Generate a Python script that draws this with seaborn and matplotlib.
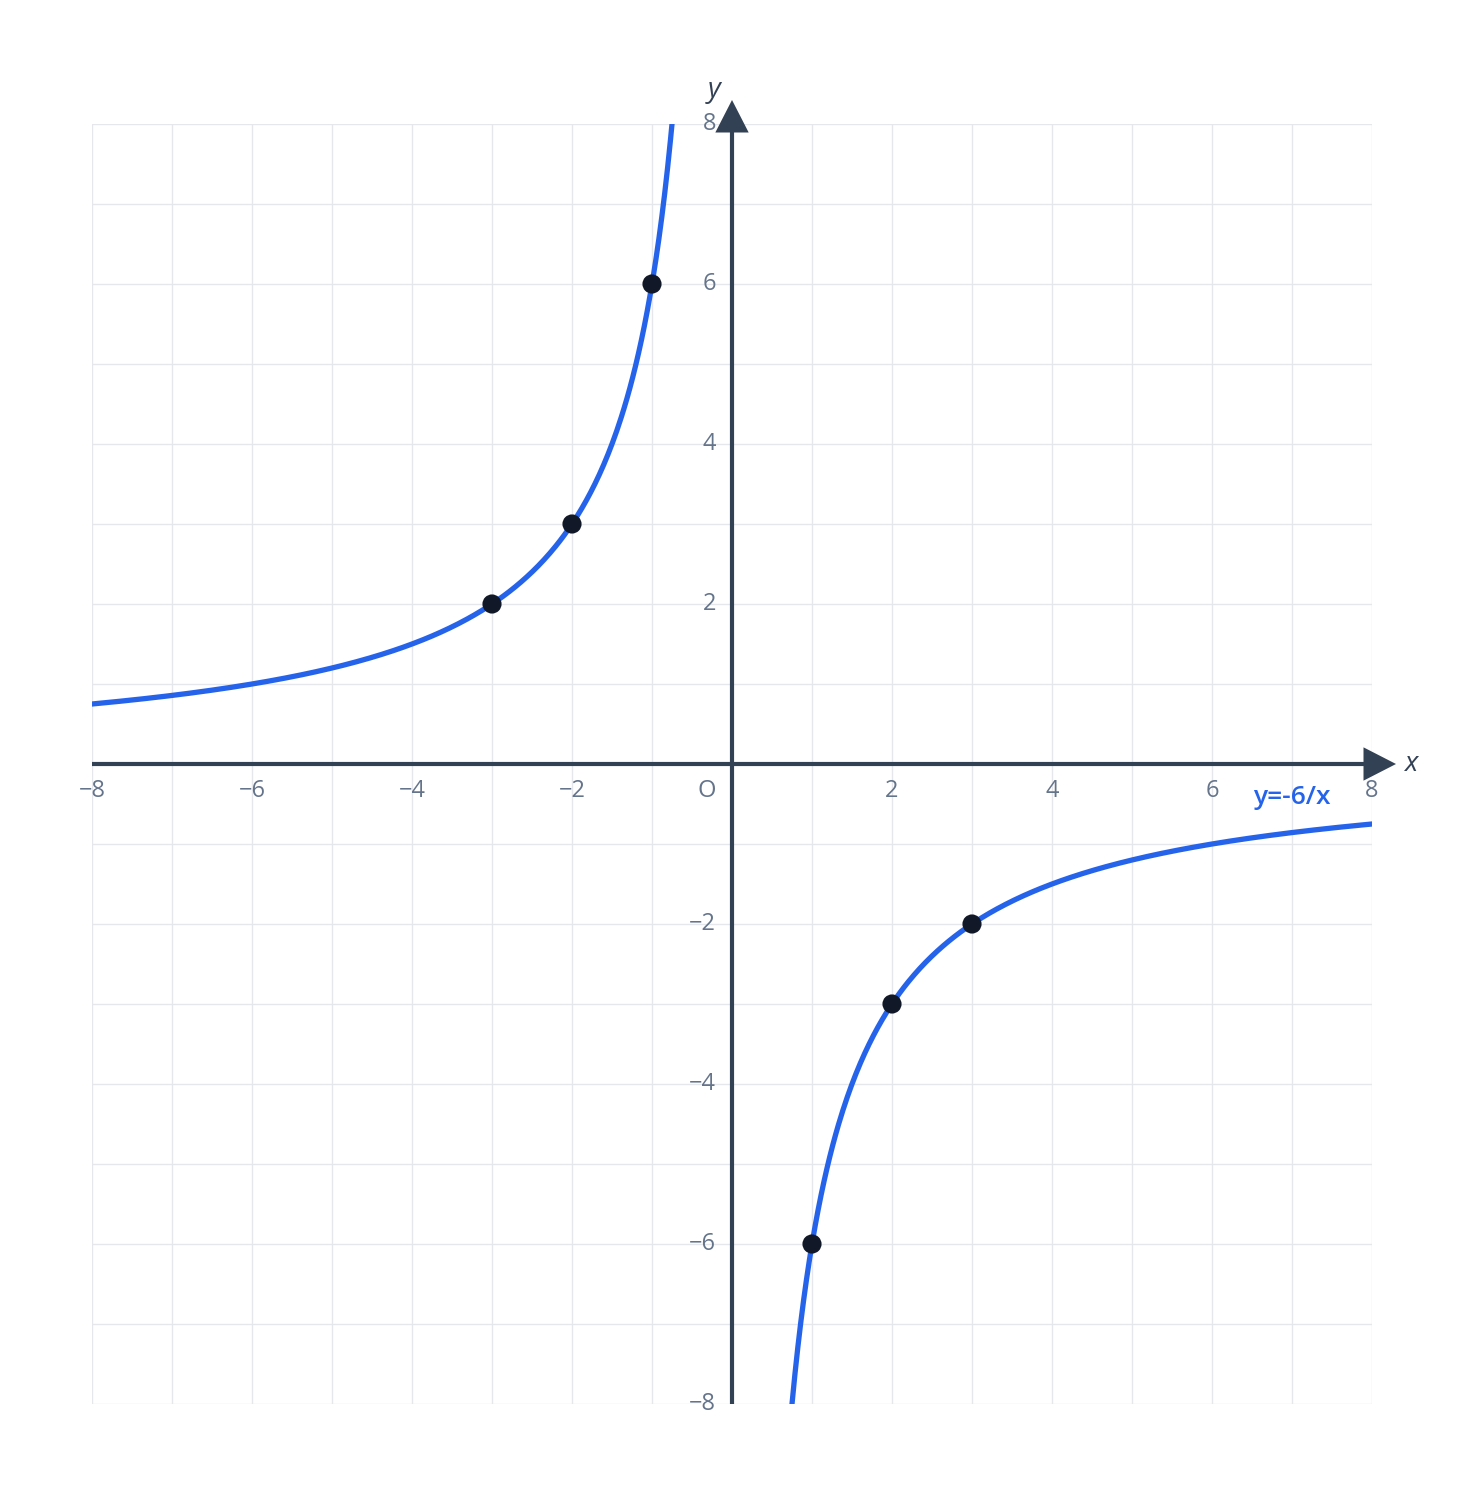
import numpy as np
import pandas as pd
import seaborn as sns
import matplotlib.pyplot as plt

K = -6
X_LEFT = [-8.0, -0.75]
X_RIGHT = [0.75, 8.0]
PTS_X = [-3, -2, -1, 1, 2, 3]
PTS_Y = [2, 3, 6, -6, -3, -2]
TICKS = [-8, -6, -4, -2, 2, 4, 6, 8]

BLUE = "#2563eb"
AXIS = "#334155"
GRAY = "#64748b"

sns.set_theme(style="white")
plt.rcParams["font.family"] = ["Open Sans", "DejaVu Sans"]

fig = plt.figure(figsize=(14.64, 14.96), dpi=100)
ax = fig.add_axes([92 / 1464, 1 - 1404 / 1496, 1280 / 1464, 1280 / 1496])

# curve, two branches
for lo, hi in (X_LEFT, X_RIGHT):
    xs = np.linspace(lo, hi, 400)
    df = pd.DataFrame({"x": xs, "y": K / xs})
    sns.lineplot(data=df, x="x", y="y", color=BLUE, lw=3.8, ax=ax, sort=False, zorder=4)

pts = pd.DataFrame({"x": PTS_X, "y": PTS_Y})
sns.scatterplot(data=pts, x="x", y="y", color="#111827", s=190, edgecolor="none", ax=ax, zorder=6)

ax.set_xlim(-8, 8)
ax.set_ylim(-8, 8)
ax.set_xticks(range(-8, 9))
ax.set_yticks(range(-8, 9))
ax.set_xticklabels([])
ax.set_yticklabels([])
ax.tick_params(length=0)
ax.grid(True, color="#e5e7eb", lw=1.0)
for s in ax.spines.values():
    s.set_visible(False)
ax.set_xlabel("")
ax.set_ylabel("")

# axes with arrow heads
ax.plot([-8, 7.92], [0, 0], color=AXIS, lw=3, zorder=3, solid_capstyle="butt")
ax.plot([0, 0], [-8, 7.92], color=AXIS, lw=3, zorder=3, solid_capstyle="butt")
head = dict(arrowstyle="-|>,head_length=1.95,head_width=1.0", color=AXIS, lw=0,
            shrinkA=0, shrinkB=0)
ax.annotate("", xy=(8.3, 0), xytext=(7.9, 0), arrowprops=head, annotation_clip=False, zorder=5)
ax.annotate("", xy=(0, 8.3), xytext=(0, 7.9), arrowprops=head, annotation_clip=False, zorder=5)

ax.text(8.48, 0, "x", fontsize=20, style="italic", color=AXIS, ha="center", va="center", clip_on=False)
ax.text(-0.22, 8.42, "y", fontsize=20, style="italic", color=AXIS, ha="center", va="center", clip_on=False)

for t in TICKS:
    lab = str(t).replace("-", "\u2212")
    ax.text(t, -0.34, lab, fontsize=17, color=GRAY, ha="center", va="center", clip_on=False)
    ax.text(-0.2, t, lab, fontsize=17, color=GRAY, ha="right", va="center", clip_on=False)
ax.text(-0.32, -0.34, "O", fontsize=17, color=GRAY, ha="center", va="center")

ax.text(7.0, -0.42, "y=-6/x", fontsize=19, color=BLUE, fontweight="semibold", ha="center", va="center")

if ax.get_legend():
    ax.get_legend().remove()

fig.savefig("out.png", dpi=100, facecolor="white")
